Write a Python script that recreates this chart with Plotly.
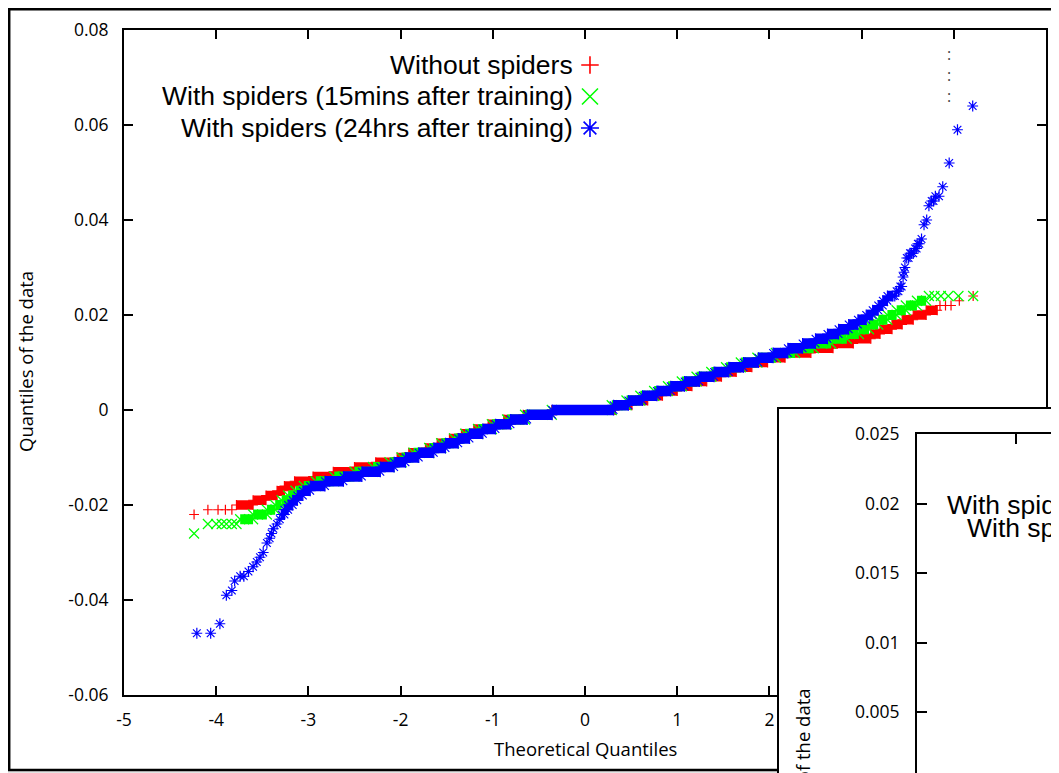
import plotly.graph_objects as go

# ---------------- canvas ----------------
W, H = 1059, 773
OFF = 8  # the page body adds an 8px margin around the figure


def fx(px):
    return (px - OFF) / W


def fy(py):
    return (H - (py - OFF)) / H


# ---------------- ticks / labels ----------------
X_TICKS = [-5, -4, -3, -2, -1, 0, 1, 2, 3, 4, 5]
X_TICK_TEXT = ["-5", "-4", "-3", "-2", "-1", "0", "1", "2", "3", "4", "5"]
Y_TICKS = [-0.06, -0.04, -0.02, 0, 0.02, 0.04, 0.06, 0.08]
Y_TICK_TEXT = ["-0.06", "-0.04", "-0.02", "0", "0.02", "0.04", "0.06", "0.08"]
INSET_Y_TICKS = [0.005, 0.01, 0.015, 0.02, 0.025]
INSET_Y_TICK_TEXT = ["0.005", "0.01", "0.015", "0.02", "0.025"]
INSET_X_TICKS = [2, 3]

X_TITLE = "Theoretical Quantiles"
Y_TITLE = "Quantiles of the data"
NAMES = ["Without spiders",
         "With spiders (15mins after training)",
         "With spiders (24hrs after training)"]

# ---------------- data (theoretical quantile, sample quantile) ----------------
# Without spiders
RED_LO_Q = [-4.24, -4.09, -3.98, -3.90, -3.83]
RED_LO_V = [-0.022, -0.021, -0.021, -0.021, -0.021]
RED_RUN_MILLI = [-20, -19, -18, -17, -16, -15, -14, -13, -12, -11, -10, -9, -8, -7,
                 -6, -5, -4, -3, -2, -1, 0, 1, 2, 3, 4, 5, 6, 7, 8, 9, 10, 11, 12,
                 13, 14, 15, 16, 17, 18, 19, 20, 21]
RED_RUN_EDGES = [-3.78, -3.60, -3.46, -3.34, -3.26, -3.15, -2.95, -2.73, -2.50, -2.27,
                 -2.037, -1.911, -1.730, -1.603, -1.470, -1.340, -1.206, -1.050, -0.881,
                 -0.670, -0.36, 0.33, 0.51, 0.68, 0.84, 1.00, 1.16, 1.32, 1.48, 1.64,
                 1.81, 1.98, 2.17, 2.45, 2.69, 2.91, 3.10, 3.20, 3.33, 3.44, 3.56, 3.70,
                 3.82]
RED_HI_Q = [3.85, 3.91, 3.97, 4.06, 4.21]
RED_HI_V = [0.022, 0.022, 0.022, 0.023, 0.024]

# With spiders (15mins after training)
GREEN_LO_Q = [-4.24, -4.09, -4.00, -3.94, -3.89, -3.83, -3.78]
GREEN_LO_V = [-0.026, -0.024, -0.024, -0.024, -0.024, -0.024, -0.024]
GREEN_RUN_MILLI = [-23, -22, -21, -20, -19, -18, -17, -16, -15, -14, -13, -12, -11,
                   -10, -9, -8, -7, -6, -5, -4, -3, -2, -1, 0, 1, 2, 3, 4, 5, 6, 7,
                   8, 9, 10, 11, 12, 13, 14, 15, 16, 17, 18, 19, 20, 21, 22, 23]
GREEN_RUN_EDGES = [-3.74, -3.60, -3.45, -3.36, -3.29, -3.22, -3.14, -3.05, -2.92, -2.72,
                   -2.50, -2.30, -2.12, -1.99, -1.86, -1.69, -1.56, -1.42, -1.30, -1.16,
                   -1.01, -0.845, -0.65, -0.36, 0.29, 0.45, 0.60, 0.75, 0.90, 1.05,
                   1.21, 1.37, 1.53, 1.69, 1.87, 2.07, 2.28, 2.48, 2.67, 2.84, 2.97,
                   3.08, 3.18, 3.28, 3.38, 3.48, 3.60, 3.70]
GREEN_HI_Q = [3.73, 3.79, 3.86, 3.94, 4.05, 4.21]
GREEN_HI_V = [0.024, 0.024, 0.024, 0.024, 0.024, 0.024]

# With spiders (24hrs after training)
BLUE_LO_Q = [-4.21, -4.06, -3.96, -3.89, -3.83, -3.80, -3.74, -3.70, -3.65, -3.60,
             -3.56, -3.525, -3.49, -3.45, -3.42, -3.40, -3.38, -3.34, -3.31]
BLUE_LO_V = [-0.047, -0.047, -0.045, -0.039, -0.038, -0.036, -0.035, -0.035, -0.034,
             -0.033, -0.032, -0.031, -0.030, -0.028, -0.027, -0.026, -0.025, -0.024,
             -0.023]
BLUE_RUN_MILLI = [-22, -21, -20, -19, -18, -17, -16, -15, -14, -13, -12, -11, -10, -9,
                  -8, -7, -6, -5, -4, -3, -2, -1, 0, 1, 2, 3, 4, 5, 6, 7, 8, 9, 10,
                  11, 12, 13, 14, 15, 16, 17, 18, 19, 20, 21, 22, 23, 24]
BLUE_RUN_EDGES = [-3.29, -3.26, -3.22, -3.17, -3.12, -3.06, -2.98, -2.82, -2.62, -2.42,
                  -2.22, -2.07, -1.947, -1.803, -1.640, -1.513, -1.375, -1.253, -1.108,
                  -0.971, -0.808, -0.627, -0.356, 0.31, 0.47, 0.625, 0.78, 0.93, 1.08,
                  1.24, 1.40, 1.56, 1.72, 1.88, 2.04, 2.20, 2.36, 2.50, 2.63, 2.75,
                  2.86, 2.96, 3.05, 3.12, 3.18, 3.23, 3.28, 3.34]
BLUE_HI_Q = [3.36, 3.38, 3.40, 3.42, 3.435, 3.45, 3.46, 3.47, 3.49, 3.51, 3.525, 3.54,
             3.56, 3.58, 3.597, 3.61, 3.626, 3.65, 3.677, 3.706, 3.73, 3.76, 3.78, 3.80,
             3.84, 3.88, 3.95, 4.04, 4.205]
BLUE_HI_V = [0.024, 0.025, 0.025, 0.026, 0.026, 0.028, 0.029, 0.030, 0.032, 0.032,
             0.033, 0.033, 0.033, 0.034, 0.034, 0.035, 0.035, 0.036, 0.039, 0.040,
             0.043, 0.044, 0.044, 0.045, 0.045, 0.047, 0.052, 0.059, 0.064]

SERIES = [
    dict(lo_q=RED_LO_Q, lo_v=RED_LO_V, milli=RED_RUN_MILLI, edges=RED_RUN_EDGES,
         hi_q=RED_HI_Q, hi_v=RED_HI_V, color="#ff0000", symbol="cross-thin",
         size=7, band=9.5, leg_size=12.5),
    dict(lo_q=GREEN_LO_Q, lo_v=GREEN_LO_V, milli=GREEN_RUN_MILLI, edges=GREEN_RUN_EDGES,
         hi_q=GREEN_HI_Q, hi_v=GREEN_HI_V, color="#00ff00", symbol="x-thin",
         size=10, band=10, leg_size=16),
    dict(lo_q=BLUE_LO_Q, lo_v=BLUE_LO_V, milli=BLUE_RUN_MILLI, edges=BLUE_RUN_EDGES,
         hi_q=BLUE_HI_Q, hi_v=BLUE_HI_V, color="#0000ff", symbol="asterisk",
         size=9, band=10.5, leg_size=15),
]

fig = go.Figure()

for s in SERIES:
    vals = [m / 1000 for m in s["milli"]]
    bx, by = [], []
    for i, v in enumerate(vals):
        bx += [s["edges"][i], s["edges"][i + 1], None]
        by += [v, v, None]
    fig.add_trace(go.Scatter(x=bx, y=by, mode="lines",
                             line=dict(color=s["color"], width=s["band"]),
                             connectgaps=False, hoverinfo="skip", showlegend=False))
    mx = s["lo_q"] + s["edges"][:-1] + s["edges"][1:] + s["hi_q"]
    my = s["lo_v"] + vals + vals + s["hi_v"]
    fig.add_trace(go.Scatter(x=mx, y=my, mode="markers",
                             marker=dict(symbol=s["symbol"], size=s["size"],
                                         color=s["color"],
                                         line=dict(color=s["color"], width=1.2)),
                             hoverinfo="skip", showlegend=False))

# key symbols (on a 0..1 overlay of the main plot area)
KEY_X = 0.5054
KEY_Y = [0.9474, 0.9000, 0.8526]
for s, ky in zip(SERIES, KEY_Y):
    fig.add_trace(go.Scatter(x=[KEY_X], y=[ky], xaxis="x4", yaxis="y4", mode="markers",
                             marker=dict(symbol=s["symbol"], size=s["leg_size"],
                                         color=s["color"],
                                         line=dict(color=s["color"], width=1.6)),
                             hoverinfo="skip", showlegend=False))

# inset (placeholder traces so the inset subplots exist)
fig.add_trace(go.Scatter(x=[None], y=[None], xaxis="x2", yaxis="y2", showlegend=False))
fig.add_trace(go.Scatter(x=[None], y=[None], xaxis="x3", yaxis="y3", showlegend=False))

TICK_FONT = dict(family="Open Sans", size=17.5, color="black")
LEG_FONT = dict(family="Liberation Sans, Arial", size=26.5, color="black")
TITLE_FONT = dict(family="Open Sans", size=18.5, color="black")

common = dict(showgrid=False, zeroline=False, showline=True, linecolor="black",
              linewidth=2, ticks="inside", tickcolor="black", tickwidth=1.5)

fig.update_layout(
    width=W, height=H,
    margin=dict(l=0, r=0, t=0, b=0, autoexpand=False),
    paper_bgcolor="#e4e4e4", plot_bgcolor="white", showlegend=False,
    xaxis=dict(domain=[fx(124), fx(1046)], range=[-5, 5], anchor="y",
               tickvals=X_TICKS, ticktext=X_TICK_TEXT, ticklen=9, mirror="ticks",
               tickfont=TICK_FONT, ticklabelstandoff=8, **common),
    yaxis=dict(domain=[fy(695), fy(30)], range=[-0.06, 0.08], anchor="x",
               tickvals=Y_TICKS, ticktext=Y_TICK_TEXT, ticklen=9, mirror="ticks",
               tickfont=TICK_FONT, ticklabelstandoff=10, **common),
    xaxis4=dict(overlaying="x", range=[0, 1], visible=False),
    yaxis4=dict(overlaying="y", range=[0, 1], visible=False),
    xaxis2=dict(domain=[fx(779), 1], range=[0, 1], anchor="y2", side="top",
                showticklabels=False, showgrid=False, zeroline=False, showline=True,
                linecolor="black", linewidth=2, ticks=""),
    yaxis2=dict(domain=[0, fy(409)], range=[0, 1], anchor="x2", side="left",
                showticklabels=False, showgrid=False, zeroline=False, showline=True,
                linecolor="black", linewidth=2, ticks=""),
    xaxis3=dict(domain=[fx(917), 1], range=[2, 2 + (1059 - 917) / 94], anchor="y3",
                side="top", tickvals=INSET_X_TICKS, showticklabels=False, ticklen=10,
                **common),
    yaxis3=dict(domain=[0, fy(434)],
                range=[0.025 - 0.02 * (781 - 434) / 278, 0.025], anchor="x3",
                side="left", tickvals=INSET_Y_TICKS, ticktext=INSET_Y_TICK_TEXT,
                ticklen=10, tickfont=TICK_FONT, ticklabelstandoff=12, **common),
)

# outer frame (left/top edge as close to the page corner as the page allows)
fig.add_shape(type="rect", xref="paper", yref="paper", x0=1.2 / W, x1=1.02,
              y0=fy(770), y1=1 - 1.2 / H, line=dict(color="black", width=2.5),
              fillcolor="white", layer="below")

ann = []
# axis titles
ann.append(dict(x=fx(585), y=fy(748), text=X_TITLE, font=TITLE_FONT,
                xanchor="center", yanchor="middle"))
ann.append(dict(x=fx(25), y=fy(362), text=Y_TITLE, font=TITLE_FONT, textangle=-90,
                xanchor="center", yanchor="middle"))
# key texts
for name, py in zip(NAMES, [65, 96.5, 128]):
    ann.append(dict(x=fx(575), y=fy(py), text=name, font=LEG_FONT,
                    xanchor="right", yanchor="middle"))
# inset texts
ann.append(dict(x=fx(945), y=fy(505), text=NAMES[1], font=LEG_FONT,
                xanchor="left", yanchor="middle"))
ann.append(dict(x=fx(965), y=fy(528), text=NAMES[2], font=LEG_FONT,
                xanchor="left", yanchor="middle"))
ann.append(dict(x=fx(802), y=fy(687), text=Y_TITLE, font=TITLE_FONT, textangle=-90,
                xanchor="center", yanchor="top"))
# dotted marks near the top
ann.append(dict(x=fx(949), y=fy(75), text=":<br>:<br>:",
                font=dict(family="Open Sans", size=16, color="#444444"),
                xanchor="center", yanchor="middle"))

for a in ann:
    a.update(xref="paper", yref="paper", showarrow=False)
fig.update_layout(annotations=ann)

fig.write_html("out.html", config=dict(displayModeBar=False))
